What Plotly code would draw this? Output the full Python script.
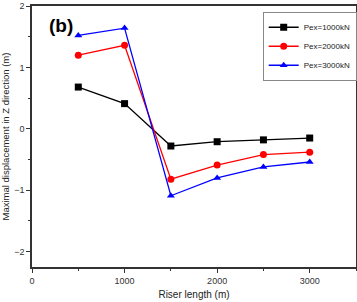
import plotly.graph_objects as go

riser_length = [500, 1000, 1500, 2000, 2500, 3000]
pex_1000 = [0.68, 0.41, -0.28, -0.21, -0.18, -0.15]
pex_2000 = [1.20, 1.36, -0.82, -0.59, -0.42, -0.38]
pex_3000 = [1.52, 1.64, -1.09, -0.80, -0.62, -0.54]
names = ["Pex=1000kN", "Pex=2000kN", "Pex=3000kN"]

fig = go.Figure()
series = [(pex_1000, "black", "square"), (pex_2000, "red", "circle"), (pex_3000, "blue", "triangle-up")]
for (vals, col, sym), nm in zip(series, names):
    fig.add_trace(go.Scatter(x=riser_length, y=vals, mode="lines+markers", name=nm,
                             line=dict(color=col, width=1.3),
                             marker=dict(symbol=sym, size=7, color=col)))

FONT = "Arial, Liberation Sans"
axis_common = dict(showline=True, linecolor="#333333", linewidth=1.5, mirror=True,
                   ticks="outside", ticklen=4, tickwidth=1, tickcolor="#333333",
                   showgrid=False, zeroline=False, automargin=False,
                   tickfont=dict(family=FONT, size=9, color="#333333"),
                   minor=dict(ticks="outside", ticklen=2, tickcolor="#333333"))

fig.update_xaxes(range=[0, 3500], tickvals=[0, 1000, 2000, 3000], **axis_common,
                 title=dict(text="Riser length (m)", font=dict(family=FONT, size=10, color="#222"), standoff=6))
fig.update_xaxes(minor=dict(tickvals=[500, 1500, 2500, 3500]))
fig.update_yaxes(range=[-2.25, 2], tickvals=[-2, -1, 0, 1, 2], **axis_common,
                 title=dict(text="Maximal displacement in Z direction (m)", font=dict(family=FONT, size=9.5, color="#222"), standoff=4))
fig.update_yaxes(minor=dict(tickvals=[-1.5, -0.5, 0.5, 1.5]))

fig.add_annotation(text="<b>(b)</b>", x=0.045, y=0.925, xref="paper", yref="paper",
                   xanchor="left", yanchor="middle", showarrow=False,
                   font=dict(family=FONT, size=19, color="black"))

fig.update_layout(width=357, height=302, margin=dict(l=32, r=1, t=6, b=35, autoexpand=False),
                  plot_bgcolor="white", paper_bgcolor="white", showlegend=True,
                  legend=dict(x=0.712, y=0.978, xanchor="left", yanchor="top",
                              bordercolor="#888888", borderwidth=1, bgcolor="white",
                              font=dict(family=FONT, size=8, color="#222"),
                              itemwidth=30, tracegroupgap=0))

fig.write_html("out.html", config={"displayModeBar": False},
               post_script="document.body.style.margin='0px';")
